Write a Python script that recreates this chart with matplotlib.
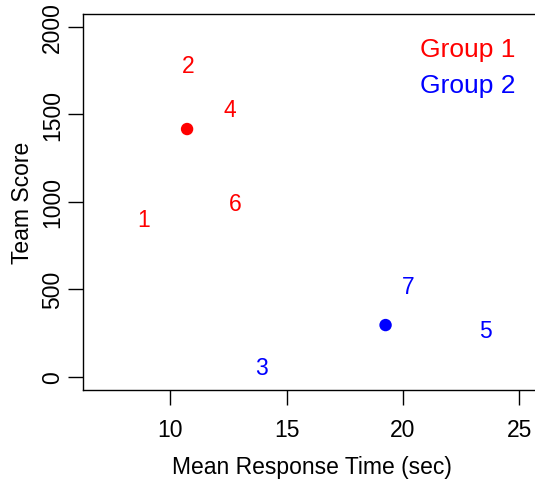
import matplotlib
matplotlib.use("Agg")
import matplotlib.pyplot as plt

plt.rcParams['font.family'] = ['Liberation Sans', 'DejaVu Sans']

# Data
g1_labels = ["1", "2", "4", "6"]
g1_x = [8.85, 10.75, 12.56, 12.77]
g1_y = [901, 1777, 1524, 992]
g2_labels = ["3", "7", "5"]
g2_x = [13.93, 20.23, 23.55]
g2_y = [54, 517, 263]
centroid_x = [10.72, 19.25]
centroid_y = [1415, 295]
group_names = ["Group 1", "Group 2"]
group_colors = ["#FF0000", "#0000FF"]
x_ticks = [10, 15, 20, 25]
y_ticks = [0, 500, 1000, 1500, 2000]

W, H = 535, 481
fig = plt.figure(figsize=(W / 100, H / 100), dpi=100)
left, right, top, bottom = 83.3, 541, 14.7, 391
ax = fig.add_axes([left / W, 1 - bottom / H, (right - left) / W, (bottom - top) / H])

ax.set_xlim(6.26, 25.93)
ax.set_ylim(-76, 2074)

fs = 16.5
for lab, x, y in zip(g1_labels, g1_x, g1_y):
    ax.text(x, y, lab, color=group_colors[0], fontsize=fs, ha='center', va='center')
for lab, x, y in zip(g2_labels, g2_x, g2_y):
    ax.text(x, y, lab, color=group_colors[1], fontsize=fs, ha='center', va='center')

ax.scatter(centroid_x, centroid_y, c=group_colors, s=80, zorder=3, linewidths=0)

ax.text(0.7357, 0.887, group_names[0], color=group_colors[0], fontsize=19,
        transform=ax.transAxes, ha='left', va='baseline')
ax.text(0.7357, 0.793, group_names[1], color=group_colors[1], fontsize=19,
        transform=ax.transAxes, ha='left', va='baseline')

ax.set_xticks(x_ticks)
ax.set_xticklabels([str(t) for t in x_ticks])
ax.set_yticks(y_ticks)
ax.set_yticklabels([str(t) for t in y_ticks], rotation=90, va='center')
ax.tick_params(axis='both', direction='out', length=11, width=1.0, labelsize=fs, colors='black')
ax.tick_params(axis='x', pad=9)
ax.tick_params(axis='y', pad=3)
ax.spines['right'].set_visible(False)
for s in ['left', 'top', 'bottom']:
    ax.spines[s].set_linewidth(1.0)

ax.set_xlabel("Mean Response Time (sec)", fontsize=fs, labelpad=10)
ax.set_ylabel("Team Score", fontsize=fs, labelpad=5)

fig.savefig("out.png", dpi=100)
